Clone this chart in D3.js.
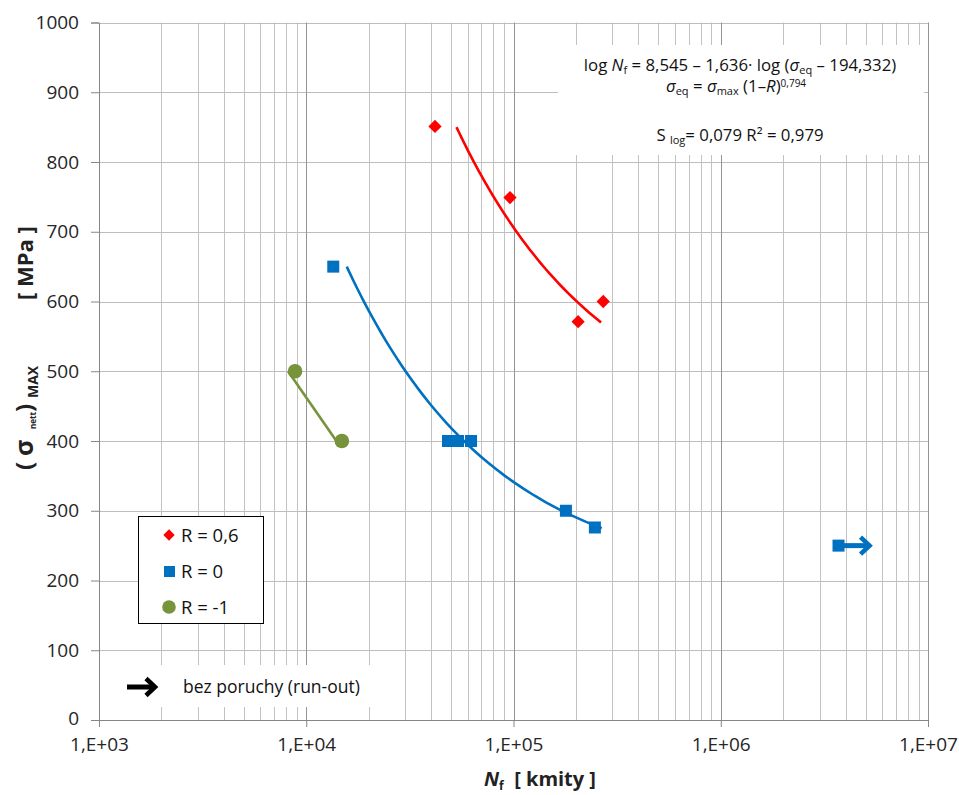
<!DOCTYPE html>
<html>
<head>
<meta charset="utf-8">
<script src="https://cdn.jsdelivr.net/npm/d3@7"></script>
<style>
  html, body { margin: 0; padding: 0; background: #fff; }
  svg { display: block; font-family: "Open Sans", "DejaVu Sans", sans-serif; }
</style>
</head>
<body>
<svg id="chart" width="959" height="795"></svg>
<script>
// Fatigue test results: max nett stress vs. cycles to failure
const r06Cycles = [41800, 96200, 205000, 271000];
const r06Stress = [851, 749, 571, 600];

const r0Cycles = [13500, 48300, 54000, 62400, 179000, 247000];
const r0Stress = [650, 400, 400, 400, 300, 276];

const rm1Cycles = [8830, 14850];
const rm1Stress = [500, 400];

// specimen that did not fail (run-out)
const runOutCycles = [3700000];
const runOutStress = [250];

// fitted model: log Nf = A - B*log(sigma_eq - C), sigma_eq = sigma_max*(1-R)^M
const fitA = 8.545, fitB = 1.636, fitC = 194.332, fitM = 0.794;
const fitR = [0.6, 0];
const fitStressRange = [[850, 570], [650, 275]];

// straight trend through the R = -1 results
const rm1TrendCycles = [8170, 13980];
const rm1TrendStress = [500, 400];

const xTickValues = [1e3, 1e4, 1e5, 1e6, 1e7];
const xTickLabels = ["1,E+03", "1,E+04", "1,E+05", "1,E+06", "1,E+07"];
const yTickValues = [0, 100, 200, 300, 400, 500, 600, 700, 800, 900, 1000];

const RED = "#ff0000", BLUE = "#0070c0", GREEN = "#77933c";

const svg = d3.select("#chart");
svg.append("rect").attr("width", 959).attr("height", 795).attr("fill", "#fff");

const x = d3.scaleLog().domain([1e3, 1e7]).range([99, 928]);
const y = d3.scaleLinear().domain([0, 1000]).range([720, 22.5]);

// ---- grid ----
const grid = svg.append("g");
const minorX = [];
for (let d = 3; d < 7; d++) for (let k = 2; k <= 9; k++) minorX.push(k * Math.pow(10, d));
grid.selectAll(".vminor").data(minorX).join("line")
  .attr("x1", d => Math.round(x(d)) + 0.5).attr("x2", d => Math.round(x(d)) + 0.5)
  .attr("y1", y(1000)).attr("y2", y(0))
  .attr("stroke", "#c2c2c2").attr("stroke-width", 1);
grid.selectAll(".hgrid").data(yTickValues.slice(1)).join("line")
  .attr("x1", x(1e3)).attr("x2", x(1e7))
  .attr("y1", d => Math.round(y(d)) + 0.5).attr("y2", d => Math.round(y(d)) + 0.5)
  .attr("stroke", "#bdbdbd").attr("stroke-width", 1);
grid.selectAll(".vmajor").data(xTickValues.slice(1)).join("line")
  .attr("x1", d => Math.round(x(d)) + 0.5).attr("x2", d => Math.round(x(d)) + 0.5)
  .attr("y1", y(1000)).attr("y2", y(0))
  .attr("stroke", "#949494").attr("stroke-width", 1);

// white panels behind the equation and the run-out note
svg.append("rect").attr("x", 558).attr("y", 45).attr("width", 366).attr("height", 110).attr("fill", "#fff");
svg.append("rect").attr("x", 100).attr("y", 665).attr("width", 285).attr("height", 42).attr("fill", "#fff");

// ---- axes ----
const yAxis = d3.axisLeft(y).tickValues(yTickValues).tickFormat(d3.format("d"))
  .tickSize(8).tickPadding(12);
const gy = svg.append("g").attr("transform", `translate(${x(1e3)},0)`).call(yAxis);
gy.select(".domain").attr("stroke", "#868686");
gy.selectAll(".tick line").attr("stroke", "#868686");
gy.selectAll(".tick text").attr("font-size", 19).attr("fill", "#262626")
  .attr("font-family", "'Open Sans', sans-serif");
gy.selectAll(".tick text").filter(d => d === 0).attr("dy", "0.25em");

const xAxis = d3.axisBottom(x).tickValues(xTickValues)
  .tickFormat((d, i) => xTickLabels[i]).tickSize(7).tickPadding(11);
const gx = svg.append("g").attr("transform", `translate(0,${y(0)})`).call(xAxis);
gx.select(".domain").attr("stroke", "#868686");
gx.selectAll(".tick line").attr("stroke", "#868686");
gx.selectAll(".tick text").attr("font-size", 19).attr("fill", "#262626")
  .attr("font-family", "'Open Sans', sans-serif");

// ---- fitted curves ----
const line = d3.line().x(d => x(d[0])).y(d => y(d[1]));
function fitCycles(sMax, R) {
  const sEq = sMax * Math.pow(1 - R, fitM);
  return Math.pow(10, fitA - fitB * Math.log10(sEq - fitC));
}
const fitColors = [RED, BLUE];
fitR.forEach((R, i) => {
  const [s0, s1] = fitStressRange[i];
  const pts = d3.range(0, 41).map(j => {
    const s = s0 + (s1 - s0) * j / 40;
    return [fitCycles(s, R), s];
  });
  svg.append("path").attr("d", line(pts)).attr("fill", "none")
    .attr("stroke", fitColors[i]).attr("stroke-width", 2.6);
});
svg.append("path")
  .attr("d", line(rm1TrendCycles.map((c, i) => [c, rm1TrendStress[i]])))
  .attr("fill", "none").attr("stroke", GREEN).attr("stroke-width", 2.6);

// ---- markers ----
svg.selectAll(".r06").data(r06Cycles).join("path")
  .attr("d", d3.symbol().type(d3.symbolSquare).size(88)())
  .attr("transform", (d, i) => `translate(${x(d)},${y(r06Stress[i])}) rotate(45)`)
  .attr("fill", RED);
svg.selectAll(".r0").data(r0Cycles).join("rect")
  .attr("x", d => x(d) - 6).attr("y", (d, i) => y(r0Stress[i]) - 6)
  .attr("width", 12).attr("height", 12).attr("fill", BLUE);
svg.selectAll(".rm1").data(rm1Cycles).join("circle")
  .attr("cx", d => x(d)).attr("cy", (d, i) => y(rm1Stress[i])).attr("r", 7.3)
  .attr("fill", GREEN);

// run-out point with arrow
function arrow(g, cx, cy, color) {
  g.append("line").attr("x1", cx).attr("x2", cx + 28).attr("y1", cy).attr("y2", cy)
    .attr("stroke", color).attr("stroke-width", 5);
  g.append("polyline")
    .attr("points", `${cx + 19},${cy - 8.5} ${cx + 28},${cy} ${cx + 19},${cy + 8.5}`)
    .attr("fill", "none").attr("stroke", color).attr("stroke-width", 4.6)
    .attr("stroke-linejoin", "miter");
}
runOutCycles.forEach((c, i) => {
  const px = x(c), py = y(runOutStress[i]);
  svg.append("rect").attr("x", px - 6).attr("y", py - 6).attr("width", 12).attr("height", 12).attr("fill", BLUE);
  arrow(svg.append("g"), px + 3, py, BLUE);
});

// ---- legend ----
const lg = svg.append("g");
lg.append("rect").attr("x", 138.5).attr("y", 516.5).attr("width", 125).attr("height", 107)
  .attr("fill", "#fff").attr("stroke", "#000").attr("stroke-width", 1);
const legendItems = ["R = 0,6", "R = 0", "R = -1"];
legendItems.forEach((t, i) => {
  const cy = 535 + i * 36;
  if (i === 0) lg.append("path").attr("d", d3.symbol().type(d3.symbolSquare).size(64)())
    .attr("transform", `translate(169,${cy}) rotate(45)`).attr("fill", RED);
  if (i === 1) lg.append("rect").attr("x", 164).attr("y", cy - 5).attr("width", 11).attr("height", 11).attr("fill", BLUE);
  if (i === 2) lg.append("circle").attr("cx", 169).attr("cy", cy).attr("r", 6.8).attr("fill", GREEN);
  lg.append("text").attr("x", 181).attr("y", cy).attr("dy", "0.36em")
    .attr("font-size", 18.5).attr("fill", "#111").text(t);
});

// run-out note
arrow(svg.append("g"), 127, 687, "#000");
svg.append("text").attr("x", 183).attr("y", 687).attr("dy", "0.36em")
  .attr("font-size", 17.5).attr("fill", "#111").text("bez poruchy (run-out)");

// ---- equation text ----
const eq = svg.append("g").attr("fill", "#111").attr("font-size", 16.8);
const l1 = eq.append("text").attr("x", 740).attr("y", 71).attr("text-anchor", "middle");
l1.append("tspan").text("log ");
l1.append("tspan").attr("font-style", "italic").text("N");
l1.append("tspan").attr("font-size", 11).attr("dy", 3).text("f");
l1.append("tspan").attr("dy", -3).text(" = 8,545 – 1,636· log (");
l1.append("tspan").attr("font-style", "italic").text("σ");
l1.append("tspan").attr("font-size", 11).attr("dy", 3).text("eq");
l1.append("tspan").attr("dy", -3).text(" – 194,332)");

const l2 = eq.append("text").attr("x", 736).attr("y", 92).attr("text-anchor", "middle");
l2.append("tspan").attr("font-style", "italic").text("σ");
l2.append("tspan").attr("font-size", 11).attr("dy", 3).text("eq");
l2.append("tspan").attr("dy", -3).text(" = ");
l2.append("tspan").attr("font-style", "italic").text("σ");
l2.append("tspan").attr("font-size", 11).attr("dy", 3).text("max");
l2.append("tspan").attr("dy", -3).text(" (1–");
l2.append("tspan").attr("font-style", "italic").text("R");
l2.append("tspan").text(")");
l2.append("tspan").attr("font-size", 10).attr("dy", -5).text("0,794");

const l3 = eq.append("text").attr("x", 740).attr("y", 141).attr("text-anchor", "middle");
l3.append("tspan").text("S ");
l3.append("tspan").attr("font-size", 11).attr("dy", 3).text("log");
l3.append("tspan").attr("dy", -3).text("= 0,079 R² = 0,979");

// ---- axis titles ----
const xt = svg.append("text").attr("x", 540).attr("y", 786).attr("text-anchor", "middle")
  .attr("font-weight", "bold").attr("font-size", 20).attr("fill", "#222");
xt.append("tspan").attr("font-style", "italic").text("N");
xt.append("tspan").attr("font-size", 12).attr("dy", 4).text("f");
xt.append("tspan").attr("dy", -4).attr("xml:space", "preserve").text("  [ kmity ]");

const yt = svg.append("g").attr("transform", "translate(33,470) rotate(-90)")
  .attr("font-weight", "bold").attr("fill", "#222");
yt.append("text").attr("x", 0).attr("y", 0).attr("font-size", 24).text("(");
yt.append("text").attr("x", 14).attr("y", 0).attr("font-size", 25).text("σ");
yt.append("text").attr("x", 41).attr("y", 3).attr("font-size", 8).text("nett");
yt.append("text").attr("x", 58).attr("y", 0).attr("font-size", 24).text(")");
yt.append("text").attr("x", 72).attr("y", 5).attr("font-size", 14).text("MAX");
yt.append("text").attr("x", 170).attr("y", 0).attr("font-size", 22)
  .attr("xml:space", "preserve").text("[ MPa ]");
</script>
</body>
</html>
